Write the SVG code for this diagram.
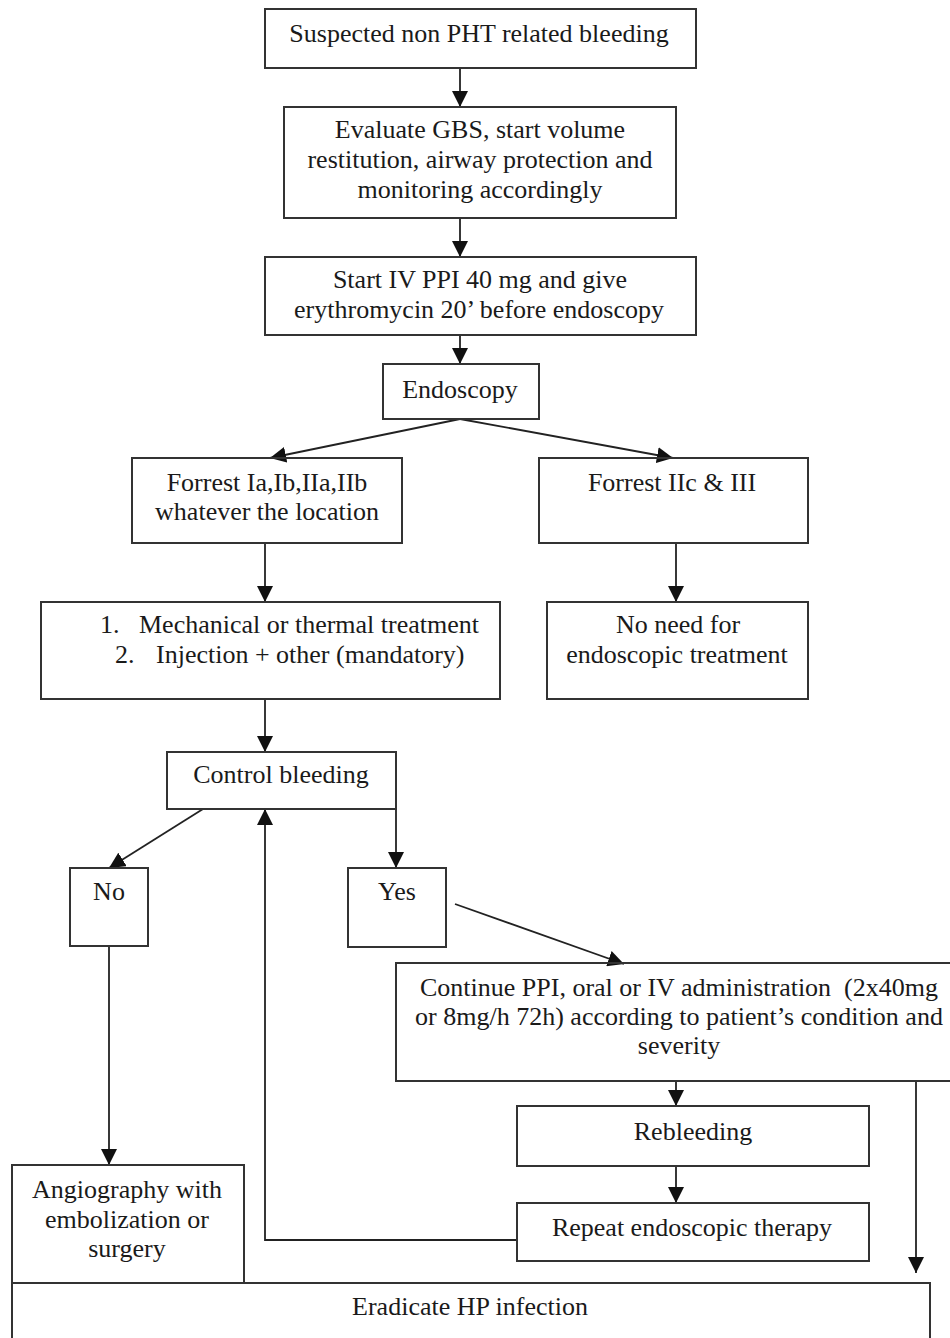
<svg xmlns="http://www.w3.org/2000/svg" width="950" height="1338" viewBox="0 0 950 1338">
<defs>
<marker id="ah" markerUnits="userSpaceOnUse" markerWidth="16" markerHeight="16" refX="16" refY="8" orient="auto">
<path d="M0,0 L16,8 L0,16 z" fill="#111"/>
</marker>
<style>
.box{fill:none;stroke:#333;stroke-width:2}
.c{fill:none;stroke:#222;stroke-width:1.8;marker-end:url(#ah)}
.t{font-family:"Liberation Serif","Times New Roman",serif;font-size:26px;fill:#1a1a1a;text-anchor:middle}
.l{text-anchor:start}
</style>
</defs>
<rect width="950" height="1338" fill="#fff"/>
<g id="connectors">
<line class="c" x1="460" y1="68" x2="460" y2="107"/>
<line class="c" x1="460" y1="218" x2="460" y2="257"/>
<line class="c" x1="460" y1="335" x2="460" y2="364"/>
<line class="c" x1="460" y1="419" x2="270" y2="458"/>
<line class="c" x1="460" y1="419" x2="673" y2="458"/>
<line class="c" x1="265" y1="543" x2="265" y2="602"/>
<line class="c" x1="676" y1="543" x2="676" y2="602"/>
<line class="c" x1="265" y1="699" x2="265" y2="752"/>
<line class="c" x1="203" y1="809" x2="109" y2="868"/>
<line class="c" x1="396" y1="809" x2="396" y2="868"/>
<line class="c" x1="455" y1="904" x2="624" y2="964"/>
<line class="c" x1="109" y1="946" x2="109" y2="1165"/>
<line class="c" x1="676" y1="1081" x2="676" y2="1106"/>
<line class="c" x1="676" y1="1166" x2="676" y2="1203"/>
<polyline class="c" points="517,1240 265,1240 265,809"/>
<line class="c" x1="916" y1="1081" x2="916" y2="1273"/>
</g>
<g id="n1"><rect class="box" x="265" y="9" width="431" height="59"/>
<text class="t" x="479" y="42">Suspected non PHT related bleeding</text></g>
<g id="n2"><rect class="box" x="284" y="107" width="392" height="111"/>
<text class="t" x="480" y="138">Evaluate GBS, start volume</text>
<text class="t" x="480" y="168">restitution, airway protection and</text>
<text class="t" x="480" y="198">monitoring accordingly</text></g>
<g id="n3"><rect class="box" x="265" y="257" width="431" height="78"/>
<text class="t" x="480" y="288">Start IV PPI 40 mg and give</text>
<text class="t" x="479" y="318">erythromycin 20’ before endoscopy</text></g>
<g id="n4"><rect class="box" x="383" y="364" width="156" height="55"/>
<text class="t" x="460" y="398">Endoscopy</text></g>
<g id="n5"><rect class="box" x="132" y="458" width="270" height="85"/>
<text class="t" x="267" y="491">Forrest Ia,Ib,IIa,IIb</text>
<text class="t" x="267" y="520">whatever the location</text></g>
<g id="n6"><rect class="box" x="539" y="458" width="269" height="85"/>
<text class="t" x="672" y="491">Forrest IIc &amp; III</text></g>
<g id="n7"><rect class="box" x="41" y="602" width="459" height="97"/>
<text class="t l" x="100" y="633">1.</text>
<text class="t l" x="139" y="633">Mechanical or thermal treatment</text>
<text class="t l" x="115" y="663">2.</text>
<text class="t l" x="156" y="663">Injection + other (mandatory)</text></g>
<g id="n8"><rect class="box" x="547" y="602" width="261" height="97"/>
<text class="t" x="678" y="633">No need for</text>
<text class="t" x="677" y="663">endoscopic treatment</text></g>
<g id="n9"><rect class="box" x="167" y="752" width="229" height="57"/>
<text class="t" x="281" y="783">Control bleeding</text></g>
<g id="n10"><rect class="box" x="70" y="868" width="78" height="78"/>
<text class="t" x="109" y="900">No</text></g>
<g id="n11"><rect class="box" x="348" y="868" width="98" height="79"/>
<text class="t" x="397" y="900">Yes</text></g>
<g id="n12"><rect class="box" x="396" y="963" width="570" height="118"/>
<text class="t" x="679" y="996" xml:space="preserve">Continue PPI, oral or IV administration  (2x40mg</text>
<text class="t" x="679" y="1025">or 8mg/h 72h) according to patient’s condition and</text>
<text class="t" x="679" y="1054">severity</text></g>
<g id="n13"><rect class="box" x="517" y="1106" width="352" height="60"/>
<text class="t" x="693" y="1140">Rebleeding</text></g>
<g id="n14"><rect class="box" x="517" y="1203" width="352" height="58"/>
<text class="t" x="692" y="1236">Repeat endoscopic therapy</text></g>
<g id="n15"><rect class="box" x="12" y="1165" width="232" height="118"/>
<text class="t" x="127" y="1198">Angiography with</text>
<text class="t" x="127" y="1228">embolization or</text>
<text class="t" x="127" y="1257">surgery</text></g>
<g id="n16"><rect class="box" x="12" y="1283" width="918" height="70"/>
<text class="t" x="470" y="1315">Eradicate HP infection</text></g>
</svg>
